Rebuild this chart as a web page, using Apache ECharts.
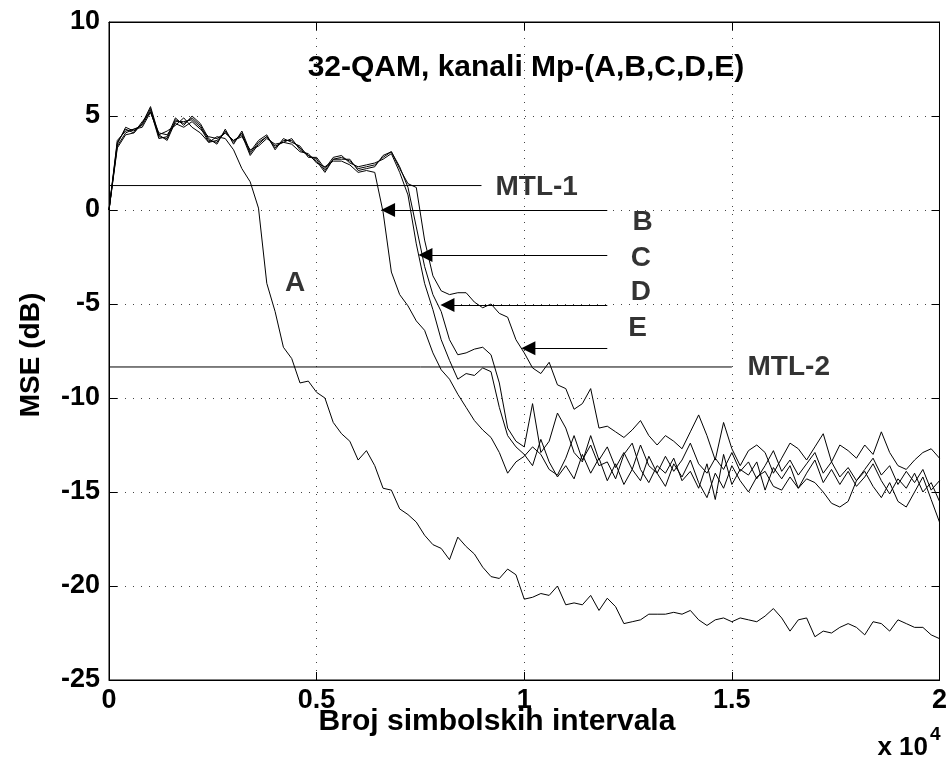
<!DOCTYPE html>
<html><head><meta charset="utf-8">
<script src="https://cdn.jsdelivr.net/npm/echarts@6/dist/echarts.min.js"></script>
<style>html,body{margin:0;padding:0;background:#fff}#c{width:950px;height:762px}</style>
</head><body><div id="c"></div>
<script>
// x positions in units of 10^4 symbol intervals
const xs = [0,0.02,0.04,0.06,0.08,0.1,0.12,0.14,0.16,0.18,0.2,0.22,0.24,0.26,0.28,0.3,0.32,0.34,0.36,0.38,0.4,0.42,0.44,0.46,0.48,0.5,0.52,0.54,0.56,0.58,0.6,0.62,0.64,0.66,0.68,0.7,0.72,0.74,0.76,0.78,0.8,0.82,0.84,0.86,0.88,0.9,0.92,0.94,0.96,0.98,1,1.02,1.04,1.06,1.08,1.1,1.12,1.14,1.16,1.18,1.2,1.22,1.24,1.26,1.28,1.3,1.32,1.34,1.36,1.38,1.4,1.42,1.44,1.46,1.48,1.5,1.52,1.54,1.56,1.58,1.6,1.62,1.64,1.66,1.68,1.7,1.72,1.74,1.76,1.78,1.8,1.82,1.84,1.86,1.88,1.9,1.92,1.94,1.96,1.98,2];

const mseA = [0,3.4,4.1,4.3,4.4,5.2,4.0,4.2,4.5,4.9,4.4,4.1,3.6,3.9,3.8,3.2,2.2,1.5,0.1,-3.9,-5.4,-7.3,-7.9,-9.2,-9.1,-9.7,-10.0,-11.3,-11.9,-12.3,-13.3,-12.8,-13.6,-14.8,-14.9,-15.9,-16.2,-16.6,-17.3,-17.8,-18.0,-18.6,-17.4,-17.9,-18.3,-19.0,-19.5,-19.6,-19.1,-19.4,-20.7,-20.6,-20.4,-20.5,-20.0,-21.0,-20.9,-21.0,-20.5,-21.3,-20.65,-21.1,-22.0,-21.9,-21.8,-21.5,-21.5,-21.5,-21.4,-21.5,-21.3,-21.8,-22.1,-21.8,-21.7,-21.9,-21.7,-21.8,-21.9,-21.6,-21.2,-21.7,-22.4,-21.8,-21.7,-22.7,-22.4,-22.5,-22.2,-22.0,-22.2,-22.6,-21.9,-22.0,-22.4,-21.8,-22.0,-22.2,-22.2,-22.6,-22.8];

const mseB = [0,3.3,4.0,4.1,4.7,5.2,4.1,4.0,4.6,4.4,4.7,4.3,3.9,3.8,4.1,3.7,3.9,3.2,3.4,3.8,3.5,3.6,3.5,3.1,3.0,2.5,2.3,2.6,2.6,2.4,2.0,2.1,2.0,-0.1,-3.3,-4.5,-5.1,-5.9,-6.4,-7.6,-8.5,-9.0,-9.8,-10.5,-11.2,-11.7,-12.1,-12.9,-14.0,-13.4,-13.1,-12.6,-13.0,-13.8,-14.1,-13.2,-12.0,-13.3,-12.5,-13.6,-13.4,-14.3,-13.0,-12.4,-13.8,-14.5,-13.6,-14.0,-13.2,-14.4,-13.9,-14.8,-13.5,-15.4,-13.0,-14.6,-13.8,-14.1,-13.4,-14.9,-13.7,-14.3,-13.6,-14.8,-14.0,-13.3,-14.5,-13.8,-14.6,-13.9,-14.7,-14.2,-13.5,-14.4,-15.1,-14.3,-14.8,-14.0,-15.0,-14.5,-15.5];

const mseC = [0,3.7,4.2,4.3,4.5,5.3,3.8,3.9,4.9,4.5,5.0,4.6,3.8,3.5,4.3,3.5,4.2,3.1,3.7,4.0,3.2,3.8,3.6,3.4,2.8,2.8,2.2,2.8,2.9,2.5,2.3,2.4,2.5,2.7,3.0,2.0,0.8,-1.8,-3.9,-5.3,-6.9,-8.0,-9.0,-8.7,-8.8,-8.4,-8.6,-10.5,-12.0,-12.6,-13.0,-13.6,-12.2,-13.4,-14.2,-13.6,-14.3,-13.0,-14.0,-13.2,-14.4,-13.5,-14.6,-13.8,-14.4,-13.1,-14.0,-14.7,-13.5,-14.2,-13.3,-14.5,-15.3,-14.0,-14.8,-13.6,-14.4,-15.0,-14.2,-13.9,-14.7,-14.9,-14.2,-14.8,-14.3,-14.5,-15.0,-15.6,-15.8,-15.5,-14.4,-13.9,-14.7,-15.3,-14.5,-15.5,-15.8,-15.0,-14.2,-15.4,-16.6];

const mseD = [0,3.5,4.4,4.2,4.6,5.5,4.0,3.7,4.7,4.7,4.8,4.4,3.6,3.7,4.1,3.7,4.0,2.9,3.5,3.9,3.4,3.6,3.8,3.2,2.9,2.6,2.0,2.7,2.7,2.7,2.1,2.2,2.3,2.9,3.1,2.3,1.2,-0.9,-3.0,-4.5,-5.4,-6.9,-7.7,-7.6,-7.4,-7.3,-7.7,-9.2,-11.6,-12.3,-12.6,-10.3,-12.9,-12.3,-10.8,-11.6,-12.9,-13.4,-12.0,-13.3,-12.6,-13.7,-12.9,-13.8,-12.5,-13.6,-14.0,-13.1,-13.9,-13.3,-12.4,-13.5,-14.0,-13.2,-13.8,-12.9,-13.9,-13.4,-14.3,-13.6,-12.8,-13.9,-13.3,-14.1,-13.5,-12.9,-14.0,-13.4,-14.2,-13.7,-14.4,-13.8,-13.2,-14.1,-13.6,-14.6,-13.9,-14.5,-13.8,-14.9,-14.4];

const mseE = [0,3.6,4.3,4.1,4.6,5.4,3.9,3.8,4.8,4.6,4.9,4.5,3.7,3.6,4.2,3.6,4.1,3.0,3.6,3.9,3.3,3.7,3.7,3.3,2.9,2.7,2.1,2.7,2.8,2.6,2.2,2.3,2.4,2.8,3.1,2.2,1.4,1.2,-1.6,-3.5,-4.3,-4.5,-4.4,-4.4,-4.9,-5.2,-5.0,-5.5,-5.7,-6.9,-7.6,-8.4,-8.7,-8.1,-9.3,-9.5,-10.6,-10.3,-9.5,-11.6,-11.5,-11.8,-12.1,-11.7,-11.2,-12.0,-12.5,-12.0,-12.3,-12.7,-11.8,-10.9,-12.0,-13.3,-11.3,-12.7,-13.6,-12.8,-12.5,-12.9,-14.0,-13.2,-12.4,-12.7,-13.3,-12.6,-11.9,-13.4,-12.5,-12.8,-13.2,-12.5,-13.0,-11.8,-12.9,-13.6,-13.8,-13.3,-12.9,-12.7,-13.2];

// threshold lines
const mtlLevels = [1.3, -8.35];
const mtlEnds = [0.897, 1.5];
// arrows pointing at the curves B..E
const arrowLevels = [0, -2.4, -5.05, -7.36];
const arrowTips = [0.672, 0.762, 0.815, 1.01];
const arrowStart = 1.2;
// free text annotations
const textLabels = ['MTL-1','MTL-2','B','C','D','E','A'];
const textX = [1.03, 1.637, 1.285, 1.281, 1.281, 1.273, 0.448];
const textY = [1.22, -8.35, -0.64, -2.55, -4.36, -6.28, -3.88];

const FONT = 'Liberation Sans';
const W = 'bold';
const chart = echarts.init(document.getElementById('c'), null, {renderer:'canvas'});

const curves = [mseA, mseB, mseC, mseD, mseE].map(vals => ({
  type:'line', data: xs.map((x,i)=>[x, vals[i]]), symbol:'none', silent:true,
  lineStyle:{color:'#000', width:1}, z:3
}));
const mtlSeries = mtlLevels.map((lv,i)=>({
  type:'line', data:[[0, lv],[mtlEnds[i], lv]], symbol:'none', silent:true,
  lineStyle:{color:'#000', width:1}, z:3
}));

const axisCommonX = {type:'value', min:0, max:2, interval:0.5};
const axisCommonY = {type:'value', min:-25, max:10, interval:5};
const lineBlack = {show:true, onZero:false, lineStyle:{color:'#000', width:1}};
const tickIn = {show:true, inside:true, length:8, lineStyle:{color:'#000'}};

chart.setOption({
  animation:false,
  grid:{left:109, top:22, width:834, height:658, show:true, borderColor:'#000', borderWidth:1, containLabel:false},
  xAxis:[
    Object.assign({}, axisCommonX, {position:'bottom',
      axisLine:lineBlack, axisTick:tickIn,
      axisLabel:{fontFamily:FONT, fontWeight:W, fontSize:27, color:'#000', margin:7},
      splitLine:{show:true, lineStyle:{color:'#444', width:1, type:[1,7]}}}),
    Object.assign({}, axisCommonX, {position:'top',
      axisLine:lineBlack, axisTick:tickIn,
      axisLabel:{show:false}, splitLine:{show:false}})
  ],
  yAxis:[
    Object.assign({}, axisCommonY, {position:'left',
      axisLine:lineBlack, axisTick:tickIn,
      axisLabel:{fontFamily:FONT, fontWeight:W, fontSize:27, color:'#000', margin:9},
      splitLine:{show:true, lineStyle:{color:'#444', width:1, type:[1,7]}}}),
    Object.assign({}, axisCommonY, {position:'right',
      axisLine:lineBlack, axisTick:tickIn,
      axisLabel:{show:false}, splitLine:{show:false}})
  ],
  graphic:[
    {type:'text', x:526, y:68, silent:true, style:{text:'32-QAM, kanali Mp-(A,B,C,D,E)', fontFamily:FONT, fontWeight:W, fontSize:30, fill:'#000', textAlign:'center', textVerticalAlign:'middle'}},
    {type:'text', x:497, y:722, silent:true, style:{text:'Broj simbolskih intervala', fontFamily:FONT, fontWeight:W, fontSize:30, fill:'#000', textAlign:'center', textVerticalAlign:'middle'}},
    {type:'text', x:31, y:355, rotation:Math.PI/2, silent:true, style:{text:'MSE (dB)', fontFamily:FONT, fontWeight:W, fontSize:28, fill:'#000', textAlign:'center', textVerticalAlign:'middle'}},
    {type:'text', x:928, y:748, silent:true, style:{text:'x 10', fontFamily:FONT, fontWeight:W, fontSize:26, fill:'#000', textAlign:'right', textVerticalAlign:'middle'}},
    {type:'text', x:930, y:735, silent:true, style:{text:'4', fontFamily:FONT, fontWeight:W, fontSize:19, fill:'#000', textAlign:'left', textVerticalAlign:'middle'}}
  ],
  series:[
    ...curves,
    ...mtlSeries,
    {type:'lines', coordinateSystem:'cartesian2d', silent:true, z:4,
     data: arrowLevels.map((y,i)=>({coords:[[arrowStart, y],[arrowTips[i], y]]})),
     symbol:['none','triangle'], symbolSize:[8,14],
     lineStyle:{color:'#000', width:1, opacity:1}},
    {type:'scatter', silent:true, symbolSize:1, itemStyle:{color:'rgba(0,0,0,0)'}, z:5,
     data: textLabels.map((t,i)=>({name:t, value:[textX[i], textY[i]]})),
     label:{show:true, position:'inside', formatter:p=>p.name, fontFamily:FONT, fontWeight:W, fontSize:28, color:'#000'}}
  ]
});
</script></body></html>
